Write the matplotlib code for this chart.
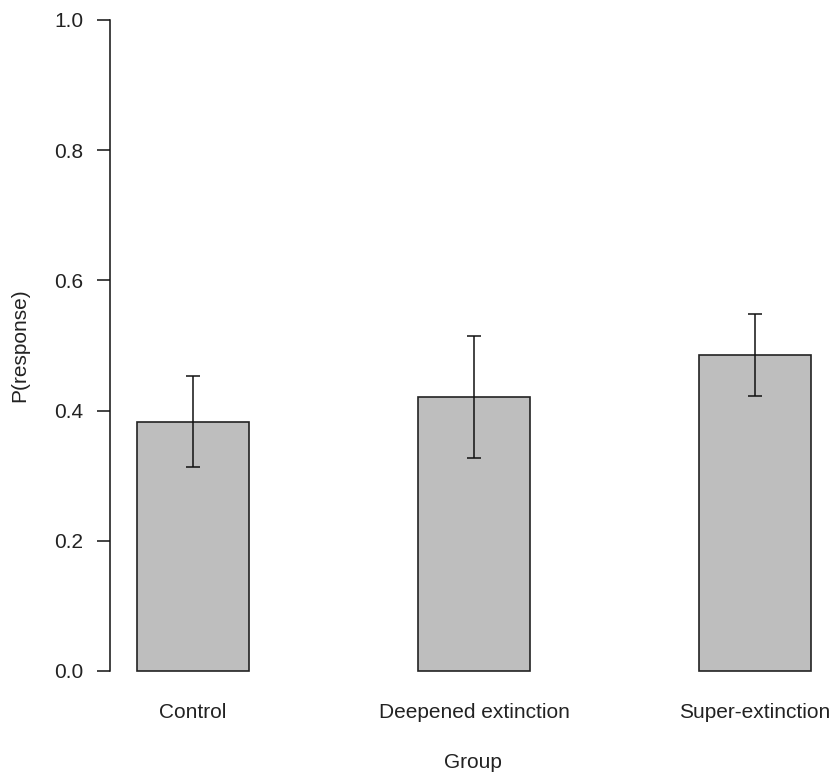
import numpy as np
import matplotlib
matplotlib.use("Agg")
import matplotlib.pyplot as plt
import matplotlib.transforms as mtransforms

plt.rcParams['font.family'] = ['Liberation Sans', 'DejaVu Sans']

groups = ["Control", "Deepened extinction", "Super-extinction"]
means = [0.383, 0.421, 0.485]
errs = [0.070, 0.094, 0.063]
yticks = [0.0, 0.2, 0.4, 0.6, 0.8, 1.0]

W, H = 833, 774
fig = plt.figure(figsize=(W / 100, H / 100), dpi=100)

# plot region in pixels (R-style barplot, space=1.5)
left, right, top, bottom = 110, 833, 0, 697
ax = fig.add_axes([left / W, 1 - bottom / H, (right - left) / W, (bottom - top) / H])

x = 2 + 2.5 * np.arange(len(groups))
ax.bar(x, means, width=1.0, color='#bebebe', edgecolor='#222222', linewidth=1.2)
ax.errorbar(x, means, yerr=errs, fmt='none', ecolor='#111111', elinewidth=1.1,
            capsize=5.3, capthick=1.1)

ax.set_xlim(1.26, 7.695)
ax.set_ylim(-0.04, 1.0307)

for s in ['top', 'right', 'bottom']:
    ax.spines[s].set_visible(False)
ax.spines['left'].set_bounds(0, 1)
ax.spines['left'].set_linewidth(1.1)
ax.spines['left'].set_color('#111111')

ax.set_yticks(yticks)
ax.set_yticklabels([f"{v:.1f}" for v in yticks])
ax.tick_params(axis='y', length=9.1, width=1.1, pad=10, labelsize=15,
               colors='#111111', labelcolor='#222222')
ax.set_xticks([])

# group labels under the bars
trans = mtransforms.blended_transform_factory(ax.transData, fig.transFigure)
for xi, g in zip(x, groups):
    ax.text(xi, 1 - 718 / H, g, transform=trans, ha='center', va='baseline',
            fontsize=15, color='#222222')

fig.text(473 / W, 1 - 768 / H, "Group", ha='center', va='baseline',
         fontsize=15, color='#222222')
fig.text(29 / W, 1 - 345.5 / H, "P(response)", rotation=90, ha='right',
         va='center', fontsize=15, color='#222222')

fig.savefig("out.png", dpi=100)
